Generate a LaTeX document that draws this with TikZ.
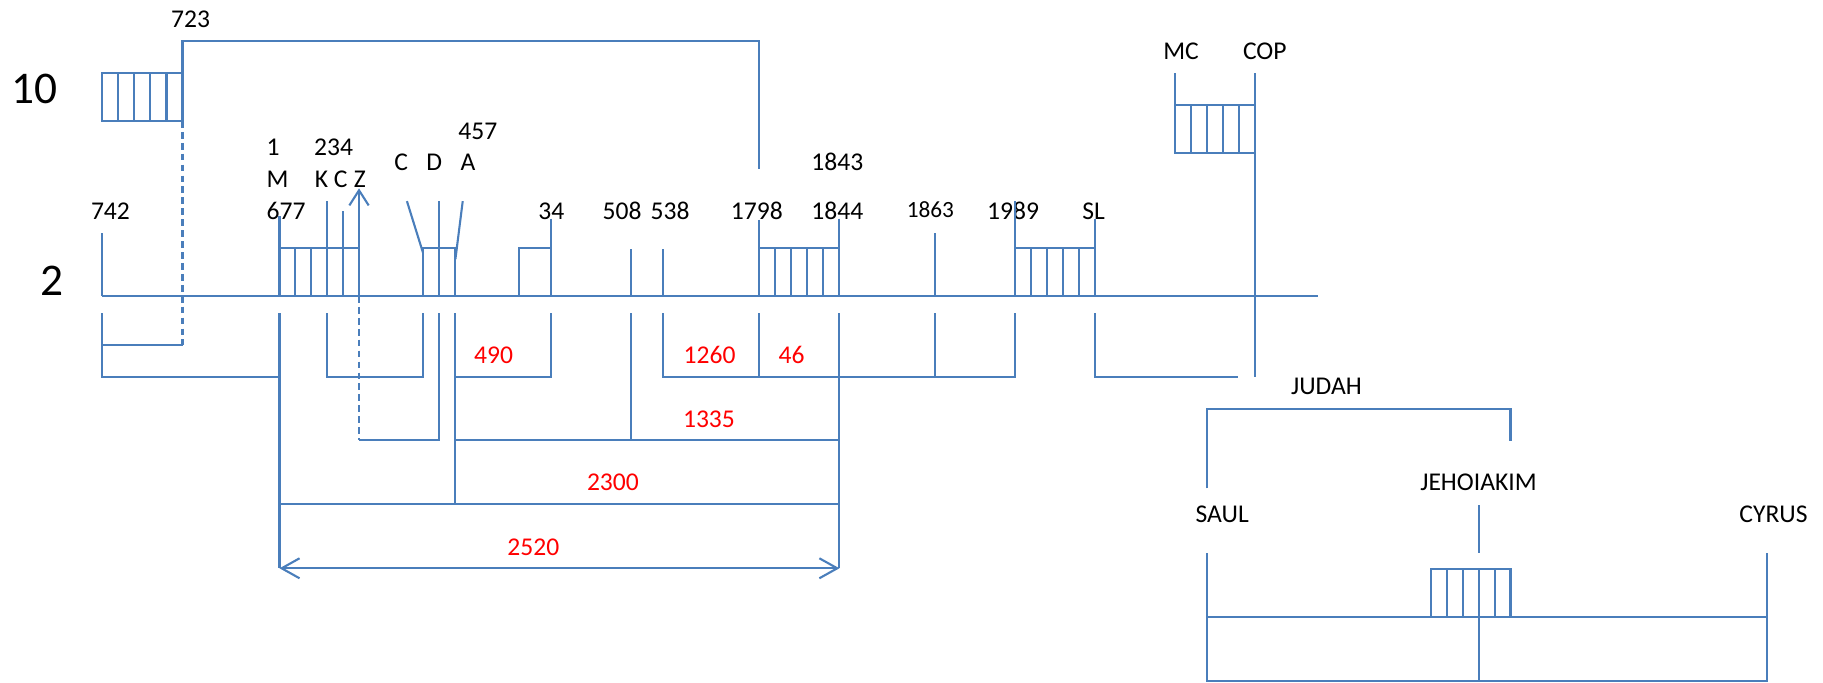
\documentclass[tikz,border=0pt]{standalone}
\usepackage{fontspec}
\setmainfont{Carlito}
\usetikzlibrary{arrows.meta}
\definecolor{lineblue}{HTML}{4A7EBB}
\definecolor{numred}{HTML}{FF0000}
\tikzset{
  ln/.style={draw=lineblue, line width=0.9pt},
  dsh/.style={ln, dash pattern=on 2.9pt off 1.8pt},
  lbl/.style={inner sep=0pt, text=black, font=\fontsize{11}{13}\selectfont, text height=0.64em, text depth=0pt},
  small/.style={lbl, font=\fontsize{10}{12}\selectfont},
  big/.style={lbl, font=\fontsize{19.5}{22}\selectfont},
  rnum/.style={lbl, text=numred},
  barb/.style={-{Straight Barb[length=6.5pt,width=8.3pt]}},
  dbarb/.style={{Straight Barb[length=7.7pt,width=8.6pt]}-{Straight Barb[length=7.7pt,width=8.6pt]}}
}
\newcommand\cellbox[4]{%
  \draw[ln] (#1,#3) rectangle (#2,#4);
  \foreach \k in {1,...,4}{\draw[ln] ({#1+\k*(#2-#1)/5},#3) -- ({#1+\k*(#2-#1)/5},#4);}%
}
\begin{document}
\begin{tikzpicture}[x=0.5pt,y=-0.5pt]
\useasboundingbox (0,0) rectangle (1568,587);

% ---------- labels ----------
\node[lbl] (t723) at (164,17) {723};
\node[big] (t10) at (30,83) {10};
\node[big] (t2) at (45,248) {2};
\node[lbl] (t742) at (95,182) {742};
\node[lbl,anchor=west] (t1) at (229,127.6) {1};
\node[lbl,anchor=west] (tM) at (229,155) {M};
\node[lbl,anchor=west] (t677) at (229,182) {677};
\node[lbl] (t234) at (287,127.6) {234};
\node[lbl] (tK) at (276.5,155) {K};
\node[lbl] (tC1) at (293,155) {C};
\node[lbl] (tZ) at (309.5,155) {Z};
\node[lbl] (tC2) at (345,140.5) {C};
\node[lbl] (tD) at (373.6,140.5) {D};
\node[lbl] (tA) at (402.5,140.5) {A};
\node[lbl] (t457) at (411,113.2) {457};
\node[lbl] (t34) at (474.3,182) {34};
\node[lbl] (t508) at (535,182) {508};
\node[lbl] (t538) at (576.4,182) {538};
\node[lbl] (t1798) at (651,182) {1798};
\node[lbl] (t1843) at (720.2,140.5) {1843};
\node[lbl] (t1844) at (720.2,182) {1844};
\node[small] (t1863) at (800.2,180.6) {1863};
\node[lbl] (t1989) at (871.4,182) {1989};
\node[lbl] (tSL) at (940.6,182) {SL};
\node[lbl] (tMC) at (1015.9,44.4) {MC};
\node[lbl] (tCOP) at (1087.9,44.4) {COP};
\node[lbl] (tJUDAH) at (1140.9,332.6) {JUDAH};
\node[lbl] (tJEH) at (1271.7,415.7) {JEHOIAKIM};
\node[lbl] (tSAUL) at (1051.2,443) {SAUL};
\node[lbl] (tCYRUS) at (1525.4,443) {CYRUS};

\node[rnum] (r490) at (424.6,306) {490};
\node[rnum] (r1260) at (610.3,306) {1260};
\node[rnum] (r46) at (680.8,306) {46};
\node[rnum] (r1335) at (609.8,361.3) {1335};
\node[rnum] (r2300) at (527.2,415.7) {2300};
\node[rnum] (r2520) at (458.7,471.6) {2520};

% ---------- upper "10" scale ----------
\draw[ln] (157,104) -- (157,35) -- (653,35) -- (653,145);
\cellbox{88}{157}{62.5}{104}
\draw[dsh] (157,104) -- (157,297);

% ---------- main timeline ----------
\draw[ln] (88,254.6) -- (1134,254.6);
\draw[ln] (88,200.7) -- (88,254.6);
\draw[ln] (88,269.5) -- (88,324) -- (240.4,324);
\draw[ln] (88,297) -- (157,297);

% 677 box
\draw[ln] (240.4,186) -- (240.4,213.6);
\cellbox{240.4}{308.8}{213.6}{254.6}
\draw[ln] (281.4,173) -- (281.4,213.6);
\draw[ln] (295,181.5) -- (295,213.6);
\draw[ln,barb] (308.8,254.6) -- (308.8,162);
\draw[dsh] (308.8,254.6) -- (308.8,378.5);
\draw[ln] (308.8,378.5) -- (377.5,378.5) -- (377.5,269.5);

% C D A box
\draw[ln] (350,173) -- (363.7,217);
\draw[ln] (363.7,213.6) rectangle (391.7,254.6);
\draw[ln] (377.5,173) -- (377.5,254.6);
\draw[ln] (398,173) -- (391.7,223);

% 34 box
\draw[ln] (446.7,213.6) rectangle (474,254.6);
\draw[ln] (474,188) -- (474,213.6);

% below brackets
\draw[ln] (281.4,269.5) -- (281.4,324) -- (363.7,324) -- (363.7,269.5);
\draw[ln] (391.7,269.5) -- (391.7,433.8);
\draw[ln] (391.7,324) -- (474,324) -- (474,269.5);

% 508 / 538
\draw[ln] (542.6,214.5) -- (542.6,254.6);
\draw[ln] (542.6,269.5) -- (542.6,378.5);
\draw[ln] (570.2,214.5) -- (570.2,254.6);
\draw[ln] (570.2,269.5) -- (570.2,324) -- (873.2,324) -- (873.2,269.5);

% 1798 - 1844
\draw[ln] (653,189) -- (653,213.6);
\cellbox{653}{722}{213.6}{254.6}
\draw[ln] (722,188) -- (722,213.6);
\draw[ln] (653,269.5) -- (653,324);
\draw[ln] (722,269.5) -- (722,488.8);

% long spans
\draw[ln] (391.7,378.5) -- (722,378.5);
\draw[ln] (240.4,433.8) -- (722,433.8);
\draw[ln] (240.4,269.5) -- (240.4,488.8);
\draw[ln,dbarb] (240.4,488.8) -- (722,488.8);

% 1863
\draw[ln] (804,200.7) -- (804,254.6);
\draw[ln] (804,269.5) -- (804,324);

% 1989 - SL
\draw[ln] (873.2,173) -- (873.2,213.6);
\cellbox{873.2}{941.9}{213.6}{254.6}
\draw[ln] (941.9,188) -- (941.9,213.6);
\draw[ln] (941.9,269.5) -- (941.9,324) -- (1065,324);

% MC / COP
\draw[ln] (1010.8,63) -- (1010.8,90.3);
\cellbox{1010.8}{1079.4}{90.3}{131.9}
\draw[ln] (1079.4,63) -- (1079.4,324);

% ---------- Judah scale ----------
\draw[ln] (1038.3,420) -- (1038.3,352) -- (1299.2,352) -- (1299.2,379.3);
\draw[ln] (1272.3,434.7) -- (1272.3,475.4);
\draw[ln] (1038.3,476) -- (1038.3,585.8) -- (1520,585.8) -- (1520,476);
\draw[ln] (1038.3,531) -- (1520,531);
\draw[ln] (1272.3,531) -- (1272.3,585.8);
\cellbox{1231}{1299.2}{489.7}{531}
\end{tikzpicture}
\end{document}
